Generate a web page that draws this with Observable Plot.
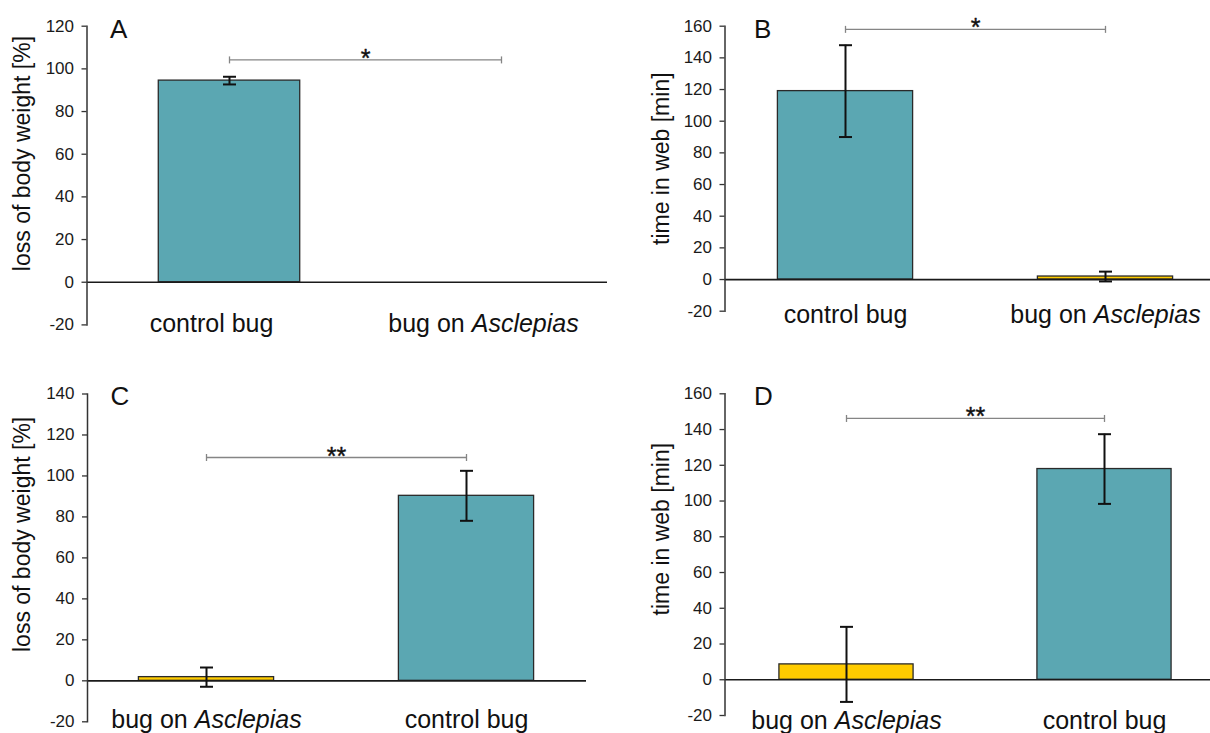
<!DOCTYPE html>
<html><head><meta charset="utf-8">
<script src="https://cdn.jsdelivr.net/npm/d3@7"></script>
<script src="https://cdn.jsdelivr.net/npm/@observablehq/plot@0.6"></script>
<style>
html,body{margin:0;padding:0;background:#fff;}
#chart{position:relative;width:1210px;height:733px;overflow:hidden;font-family:"Liberation Sans",Arial,sans-serif;background:#fff;}
#chart svg{position:absolute;left:0;top:0;}
</style></head><body><div id="chart"></div>
<script>
// ---------- data ----------
const catsA = ["control bug", "bug on Asclepias"];
const valuesA = [94.5, 0];
const errorsA = [1.8, null];
const ticksA = [-20, 0, 20, 40, 60, 80, 100, 120];
const sigA = 104.2, starsA = "*";

const catsB = ["control bug", "bug on Asclepias"];
const valuesB = [119, 1.9];
const errorsB = [29, 3.1];
const ticksB = [-20, 0, 20, 40, 60, 80, 100, 120, 140, 160];
const sigB = 158, starsB = "*";

const catsC = ["bug on Asclepias", "control bug"];
const valuesC = [1.8, 90.3];
const errorsC = [4.7, 12.2];
const ticksC = [-20, 0, 20, 40, 60, 80, 100, 120, 140];
const sigC = 109, starsC = "**";

const catsD = ["bug on Asclepias", "control bug"];
const valuesD = [8.6, 117.9];
const errorsD = [21, 19.5];
const ticksD = [-20, 0, 20, 40, 60, 80, 100, 120, 140, 160];
const sigD = 146.2, starsD = "**";

const titleWeight = "loss of body weight [%]";
const titleTime = "time in web [min]";

// ---------- styles / layout ----------
const TEAL = "#5ba7b2", YELLOW = "#ffcc00";
const colorOf = {"control bug": TEAL, "bug on Asclepias": YELLOW};
const HW = 0.26; // half bar width in category steps
const FONT = '"Liberation Sans", Arial, sans-serif';

const hline = {draw(ctx, size) { const r = Math.sqrt(size / Math.PI); ctx.moveTo(-r, 0); ctx.lineTo(r, 0); }};
const vline = {draw(ctx, size) { const r = Math.sqrt(size / Math.PI); ctx.moveTo(0, -r); ctx.lineTo(0, r); }};

const panels = [
  {letter: "A", title: titleWeight, cats: catsA, values: valuesA, errors: errorsA, ticks: ticksA, sig: sigA, stars: starsA,
   L: {left: 86.5, right: 607, top: 25.7, bottom: 324.4, centers: [229, 501], titleDx: -64.5, titleDy: -22, labelDx: -18, labelDy: 32, letterDx: 23}},
  {letter: "B", title: titleTime, cats: catsB, values: valuesB, errors: errorsB, ticks: ticksB, sig: sigB, stars: starsB,
   L: {left: 724.5, right: 1210, top: 25.7, bottom: 310.7, centers: [845, 1105], titleDx: -63, titleDy: -10, labelDx: 0, labelDy: 26, letterDx: 29}},
  {letter: "C", title: titleWeight, cats: catsC, values: valuesC, errors: errorsC, ticks: ticksC, sig: sigC, stars: starsC,
   L: {left: 87, right: 586, top: 393.5, bottom: 721.3, centers: [206, 466], titleDx: -64.5, titleDy: -23.5, labelDx: 0, labelDy: 29.5, letterDx: 23}},
  {letter: "D", title: titleTime, cats: catsD, values: valuesD, errors: errorsD, ticks: ticksD, sig: sigD, stars: starsD,
   L: {left: 724.5, right: 1210, top: 393.3, bottom: 715, centers: [846, 1104], titleDx: -63, titleDy: -25.5, labelDx: 0, labelDy: 31, letterDx: 29}}
];

function render(p) {
  const L = p.L;
  const data = p.cats.map((c, i) => ({i, cat: c, v: p.values[i], e: p.errors[i]}));
  const errData = data.filter(d => d.e != null);
  const svg = Plot.plot({
    width: 1210, height: 733,
    marginLeft: L.left, marginRight: 1210 - L.right, marginTop: L.top, marginBottom: 733 - L.bottom,
    style: {background: "transparent", overflow: "visible", fontFamily: FONT, color: "#1a1a1a"},
    x: {type: "linear", domain: [0, 1], range: L.centers, axis: null},
    y: {domain: [p.ticks[0], p.ticks[p.ticks.length - 1]]},
    color: {type: "identity"},
    marks: [
      Plot.rect(data, {x1: d => d.i - HW, x2: d => d.i + HW, y1: () => 0, y2: d => d.v,
        fill: d => colorOf[d.cat], stroke: "#2a2a2a", strokeWidth: 1.3}),
      Plot.ruleY([0], {stroke: "#1a1a1a", strokeWidth: 1.7}),
      Plot.frame({anchor: "left", stroke: "#333", strokeWidth: 1.5}),
      Plot.axisY({ticks: p.ticks, tickSize: 5, tickPadding: 8, fontSize: 17, label: null,
        tickFormat: d => String(d), stroke: "#333", strokeWidth: 1.3}),
      Plot.ruleX(errData, {x: "i", y1: d => d.v - d.e, y2: d => d.v + d.e, stroke: "#111", strokeWidth: 2}),
      Plot.dot(errData, {x: "i", y: d => d.v - d.e, symbol: hline, r: 6.5, stroke: "#111", strokeWidth: 2, fill: "none"}),
      Plot.dot(errData, {x: "i", y: d => d.v + d.e, symbol: hline, r: 6.5, stroke: "#111", strokeWidth: 2, fill: "none"}),
      Plot.ruleY([p.sig], {x1: () => 0, x2: () => 1, y: d => d, stroke: "#858585", strokeWidth: 1.3}),
      Plot.dot([0, 1], {x: d => d, y: () => p.sig, symbol: vline, r: 3.5, stroke: "#858585", strokeWidth: 1.3, fill: "none"}),
      Plot.text([p.stars], {x: () => 0.5, y: () => p.sig, text: d => d, fontSize: 25, dy: -1, fill: "#111", stroke: "#111", strokeWidth: 0.4}),
      Plot.text(data, {x: "i", y: () => 0, text: "cat", fontSize: 25, lineAnchor: "top", dy: L.labelDy, dx: L.labelDx, fill: "#111"}),
      Plot.text([p.title], {frameAnchor: "left", text: d => d, rotate: -90, fontSize: 23, textAnchor: "middle", lineAnchor: "middle",
        dx: L.titleDx, dy: L.titleDy, fill: "#111"}),
      Plot.text([p.letter], {frameAnchor: "top-left", text: d => d, fontSize: 26, textAnchor: "start", lineAnchor: "top", dx: L.letterDx, dy: -7, fill: "#111"})
    ]
  });
  svg.querySelectorAll("text").forEach(t => {
    const s = t.textContent;
    const k = s.indexOf("Asclepias");
    if (k >= 0 && t.children.length === 0) {
      t.textContent = "";
      const ns = "http://www.w3.org/2000/svg";
      const a = document.createElementNS(ns, "tspan"); a.textContent = s.slice(0, k);
      const b = document.createElementNS(ns, "tspan"); b.textContent = "Asclepias"; b.setAttribute("font-style", "italic");
      t.appendChild(a); t.appendChild(b);
    }
  });
  return svg;
}

const chart = document.getElementById("chart");
panels.forEach(p => chart.appendChild(render(p)));
</script>
</body></html>
